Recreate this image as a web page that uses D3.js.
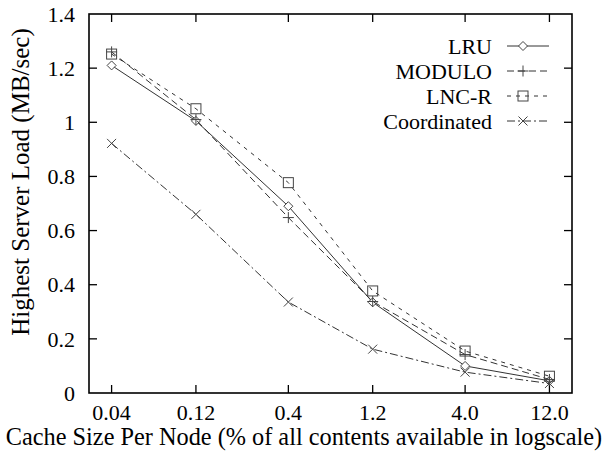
<!DOCTYPE html>
<html>
<head>
<meta charset="utf-8">
<script src="https://cdn.jsdelivr.net/npm/d3@7"></script>
</head>
<body style="margin:0">
<div id="chart"></div>
<script>
// data
const cacheSizes = [0.04, 0.12, 0.4, 1.2, 4.0, 12.0]
const tickLabels = ["0.04", "0.12", "0.4", "1.2", "4.0", "12.0"]
const lru = [1.21, 1.005, 0.69, 0.335, 0.10, 0.045]
const modulo = [1.26, 1.01, 0.648, 0.338, 0.142, 0.05]
const lncr = [1.252, 1.05, 0.777, 0.377, 0.155, 0.062]
const coordinated = [0.922, 0.66, 0.336, 0.162, 0.077, 0.035]
const yTicks = [0, 0.2, 0.4, 0.6, 0.8, 1, 1.2, 1.4]

const seriesNames = ["LRU", "MODULO", "LNC-R", "Coordinated"]
const seriesValues = [lru, modulo, lncr, coordinated]
const seriesDash = [null, "7,4", "4,5", "8,3,2,3"]
const seriesMarker = ["diamond", "plus", "square", "cross"]

const width = 609, height = 453
const margin = {top: 14, right: 37, bottom: 60, left: 89}
const fontSize = 22
const titleSize = 24.3

const svg = d3.select("#chart").append("svg")
  .attr("width", width)
  .attr("height", height)
  .attr("viewBox", [0, 0, width, height])

const x = d3.scaleLog()
  .domain([0.0298, 16.1])
  .range([margin.left, width - margin.right])

const y = d3.scaleLinear()
  .domain([0, 1.4])
  .range([height - margin.bottom, margin.top])

const tick = 8

function label(sel, size) {
  return sel
    .style("font-family", "\"Liberation Serif\", \"Times New Roman\", serif")
    .attr("font-size", size || fontSize)
    .attr("fill", "#000")
}

// ticks (inward, mirrored)
const ticks = svg.append("g").attr("stroke", "#000").attr("stroke-width", 1.3)
ticks.selectAll(null).data(yTicks.slice(1, -1)).join("line")
  .attr("x1", x.range()[0]).attr("x2", x.range()[0] + tick)
  .attr("y1", d => y(d)).attr("y2", d => y(d))
ticks.selectAll(null).data(yTicks.slice(1, -1)).join("line")
  .attr("x1", x.range()[1]).attr("x2", x.range()[1] - tick)
  .attr("y1", d => y(d)).attr("y2", d => y(d))
ticks.selectAll(null).data(cacheSizes).join("line")
  .attr("x1", d => x(d)).attr("x2", d => x(d))
  .attr("y1", y(0)).attr("y2", y(0) - tick)
ticks.selectAll(null).data(cacheSizes).join("line")
  .attr("x1", d => x(d)).attr("x2", d => x(d))
  .attr("y1", y(1.4)).attr("y2", y(1.4) + tick)

// tick labels
svg.append("g").selectAll("text").data(yTicks).join("text")
  .attr("x", margin.left - 14)
  .attr("y", d => y(d))
  .attr("dy", "0.35em")
  .attr("text-anchor", "end")
  .call(label)
  .text(d => d3.format("~g")(d))

svg.append("g").selectAll("text").data(cacheSizes).join("text")
  .attr("x", d => x(d))
  .attr("y", y(0) + 27)
  .attr("text-anchor", "middle")
  .call(label)
  .text((d, i) => tickLabels[i])

// axis titles
svg.append("text")
  .attr("x", 304)
  .attr("y", height - 8)
  .attr("text-anchor", "middle")
  .call(label, titleSize)
  .text("Cache Size Per Node (% of all contents available in logscale)")

svg.append("text")
  .attr("transform", `translate(29,182) rotate(-90)`)
  .attr("text-anchor", "middle")
  .call(label, 25)
  .text("Highest Server Load (MB/sec)")

function marker(g, type) {
  const s = 4.5
  if (type === "diamond") {
    g.append("path").attr("d", `M0,${-s}L${s},0L0,${s}L${-s},0Z`).attr("fill", "#fff")
  } else if (type === "square") {
    g.append("rect").attr("x", -s - 0.5).attr("y", -s - 0.5).attr("width", 2 * s + 1).attr("height", 2 * s + 1).attr("fill", "none")
  } else if (type === "plus") {
    g.append("path").attr("d", `M${-s - 1},0H${s + 1}M0,${-s - 1}V${s + 1}`)
  } else if (type === "cross") {
    g.append("path").attr("d", `M${-s},${-s}L${s},${s}M${-s},${s}L${s},${-s}`)
  }
}

const line = d3.line()
  .x((d, i) => x(cacheSizes[i]))
  .y(d => y(d))

seriesValues.forEach((vals, k) => {
  const g = svg.append("g").attr("stroke", "#333").attr("fill", "none")
  g.append("path")
    .attr("d", line(vals))
    .attr("stroke-width", 1)
    .attr("stroke-dasharray", seriesDash[k])
  vals.forEach((v, i) => {
    const m = g.append("g")
      .attr("transform", `translate(${x(cacheSizes[i])},${y(v)})`)
      .attr("stroke-width", 1)
      .attr("stroke", "#444")
    marker(m, seriesMarker[k])
  })
})

// legend
const legend = svg.append("g")
seriesNames.forEach((name, k) => {
  const ly = 46 + k * 25
  legend.append("text")
    .attr("x", 492).attr("y", ly).attr("dy", "0.35em")
    .attr("text-anchor", "end")
    .call(label)
    .text(name)
  legend.append("line")
    .attr("x1", 507).attr("x2", 549).attr("y1", ly).attr("y2", ly)
    .attr("stroke", "#333").attr("stroke-width", 1)
    .attr("stroke-dasharray", seriesDash[k])
  const m = legend.append("g")
    .attr("transform", `translate(523,${ly})`)
    .attr("stroke", "#444").attr("fill", "none")
  marker(m, seriesMarker[k])
})

// frame
svg.append("rect")
  .attr("x", x.range()[0]).attr("y", y.range()[1])
  .attr("width", x.range()[1] - x.range()[0])
  .attr("height", y.range()[0] - y.range()[1])
  .attr("fill", "none").attr("stroke", "#000").attr("stroke-width", 1.6)
</script>
</body>
</html>
